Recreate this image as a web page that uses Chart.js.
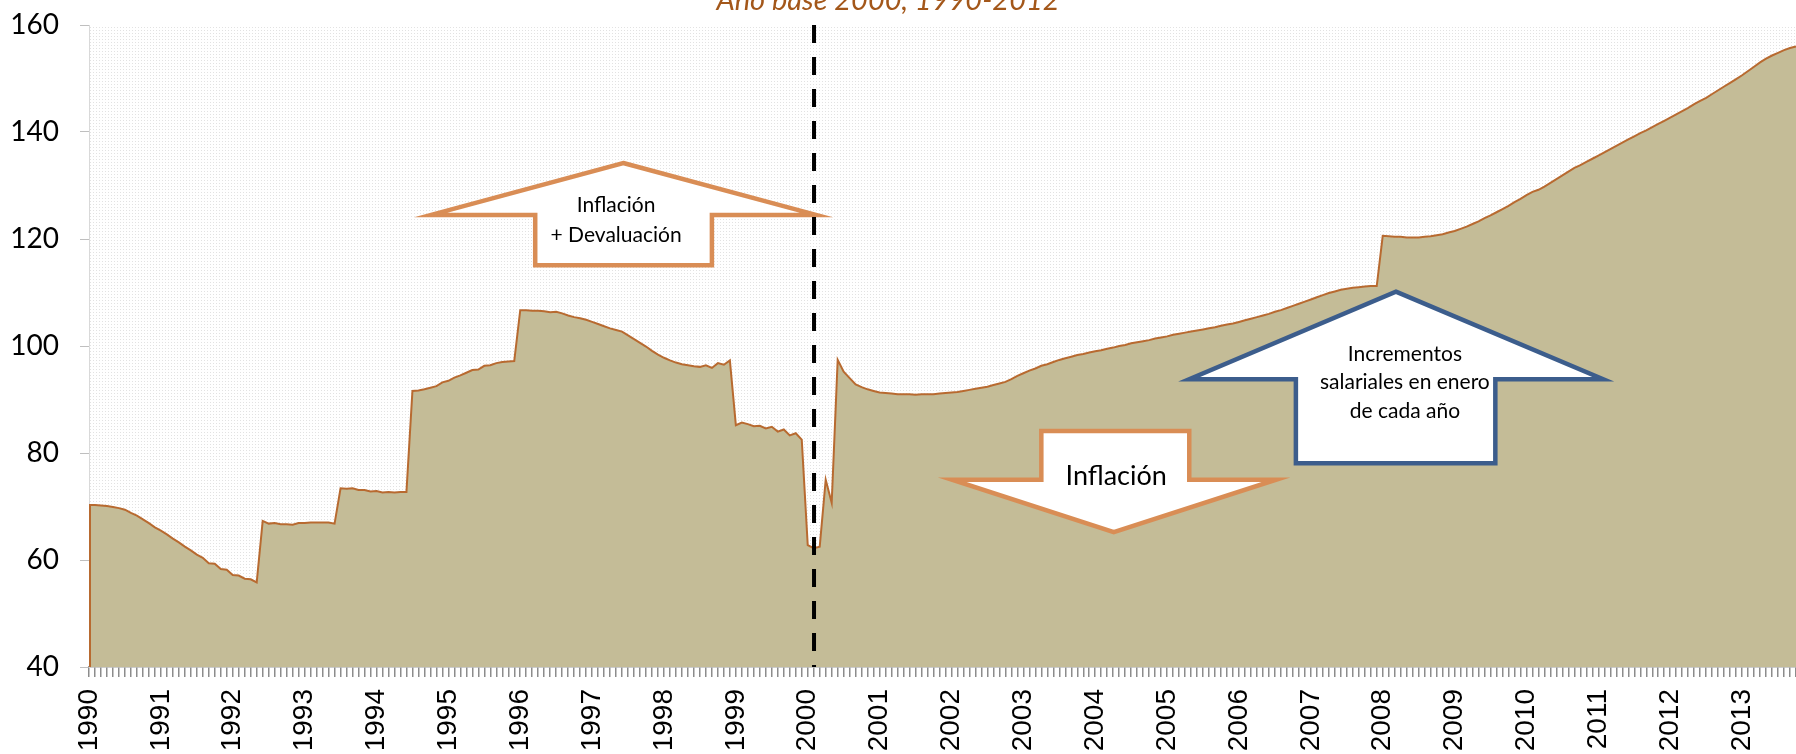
<!DOCTYPE html>
<html lang="es">
<head>
<meta charset="utf-8">
<title>Índice de salario real, año base 2000</title>
<script src="https://cdn.jsdelivr.net/npm/chart.js@4.4.1/dist/chart.umd.min.js"></script>
<style>
  html, body { margin: 0; padding: 0; background: #fff; overflow: hidden; }
  #wrap { width: 1796px; height: 754px; }
</style>
</head>
<body>
<div id="wrap"><canvas id="chart" width="1796" height="754"></canvas></div>
<script>
// category axis: one label per January
const years = ['1990', '1991', '1992', '1993', '1994', '1995', '1996', '1997', '1998', '1999', '2000', '2001',
               '2002', '2003', '2004', '2005', '2006', '2007', '2008', '2009', '2010', '2011', '2012', '2013'];
const monthsLastYear = 10; // the series stops in Oct 2013

// real wage index, monthly (2000 = 100)
const indice = [
  70.3, 70.3, 70.2, 70.1, 69.9, 69.7, 69.4, 68.8, 68.3, 67.6, 66.9, 66.1,              // 1990
  65.5, 64.8, 64.0, 63.3, 62.5, 61.8, 61.0, 60.4, 59.4, 59.3, 58.3, 58.2,              // 1991
  57.2, 57.1, 56.5, 56.4, 55.8, 67.3, 66.8, 66.9, 66.7, 66.7, 66.6, 66.9,              // 1992
  66.9, 67.0, 67.0, 67.0, 67.0, 66.8, 73.4, 73.3, 73.4, 73.1, 73.1, 72.8,              // 1993
  72.9, 72.6, 72.7, 72.6, 72.7, 72.7, 91.6, 91.7, 91.9, 92.2, 92.5, 93.2,              // 1994
  93.5, 94.1, 94.5, 95.0, 95.5, 95.6, 96.3, 96.4, 96.8, 97.0, 97.1, 97.2,              // 1995
  106.7, 106.7, 106.6, 106.6, 106.5, 106.3, 106.4, 106.1, 105.7, 105.4, 105.2, 104.9,  // 1996
  104.5, 104.1, 103.7, 103.3, 103.0, 102.7, 102.0, 101.3, 100.6, 99.9, 99.1, 98.4,     // 1997
  97.8, 97.3, 96.9, 96.6, 96.4, 96.2, 96.1, 96.4, 95.9, 96.8, 96.5, 97.3,              // 1998
  85.2, 85.7, 85.4, 85.0, 85.1, 84.6, 84.9, 84.0, 84.4, 83.3, 83.7, 82.5,              // 1999
  62.8, 62.2, 62.5, 75.0, 70.7, 97.4, 95.2, 94.0, 92.8, 92.3, 91.9, 91.6,              // 2000
  91.3, 91.2, 91.1, 91.0, 91.0, 91.0, 90.9, 91.0, 91.0, 91.0, 91.1, 91.2,              // 2001
  91.3, 91.4, 91.6, 91.8, 92.0, 92.2, 92.4, 92.7, 93.0, 93.3, 93.8, 94.4,              // 2002
  94.9, 95.4, 95.8, 96.3, 96.6, 97.0, 97.4, 97.7, 98.0, 98.3, 98.5, 98.8,              // 2003
  99.0, 99.2, 99.5, 99.7, 100.0, 100.2, 100.5, 100.7, 100.9, 101.1, 101.4, 101.6,      // 2004
  101.8, 102.1, 102.3, 102.5, 102.7, 102.9, 103.1, 103.3, 103.5, 103.8, 104.0, 104.2,  // 2005
  104.5, 104.8, 105.1, 105.4, 105.7, 106.0, 106.4, 106.7, 107.1, 107.5, 107.9, 108.3,  // 2006
  108.7, 109.1, 109.5, 109.9, 110.2, 110.5, 110.7, 110.9, 111.0, 111.1, 111.2, 111.2,  // 2007
  120.6, 120.5, 120.4, 120.4, 120.3, 120.3, 120.3, 120.4, 120.5, 120.7, 120.9, 121.2,  // 2008
  121.5, 121.9, 122.3, 122.8, 123.3, 123.9, 124.4, 125.0, 125.6, 126.2, 126.9, 127.5,  // 2009
  128.2, 128.8, 129.2, 129.8, 130.5, 131.2, 131.9, 132.6, 133.3, 133.8, 134.4, 135.0,  // 2010
  135.6, 136.2, 136.8, 137.4, 138.0, 138.6, 139.2, 139.8, 140.3, 140.9, 141.5, 142.1,  // 2011
  142.7, 143.3, 143.9, 144.5, 145.2, 145.8, 146.4, 147.1, 147.8, 148.5, 149.2, 149.9,  // 2012
  150.6, 151.4, 152.2, 153.0, 153.7, 154.3, 154.8, 155.3, 155.7, 156.0                 // 2013
];

const yMin = 40, yMax = 160, yStep = 20;

// month labels "1990-01" ... built from the year list
const meses = [];
years.forEach((y, k) => {
  const n = k === years.length - 1 ? monthsLastYear : 12;
  for (let m = 1; m <= n; m++) meses.push(y + '-' + String(m).padStart(2, '0'));
});

// annotation shapes, in (month index, index value) units
const lineaDevaluacion = 121.05;
const flechas = [
  { tip: [89.2, 134.2], barbL: 57.1, barbR: 121.4, barbV: 124.5, shaftL: 74.5, shaftR: 104.0, endV: 115.1,
    color: '#d98d55', text: ['Inflación', '+ Devaluación'], at: [88, 126.3], font: '21px Lato', lh: 30 },
  { tip: [171.1, 65.2], barbL: 144.1, barbR: 198.2, barbV: 75.0, shaftL: 159.0, shaftR: 183.7, endV: 84.1,
    color: '#d98d55', text: ['Inflación'], at: [171.5, 75.7], font: '27px Lato', lh: 30 },
  { tip: [218.2, 110.15], barbL: 183.7, barbR: 252.8, barbV: 93.8, shaftL: 201.5, shaftR: 234.8, endV: 78.1,
    color: '#3c5d8c', text: ['Incrementos', 'salariales en enero', 'de cada año'], at: [219.7, 98.5], font: '21px Lato', lh: 28.7 }
];

function patronPuntos(ctx) {
  const c = document.createElement('canvas');
  c.width = 3; c.height = 3;
  const g = c.getContext('2d');
  g.fillStyle = '#ffffff'; g.fillRect(0, 0, 3, 3);
  g.fillStyle = '#e2e2e2'; g.fillRect(0, 0, 1, 1);
  return ctx.createPattern(c, 'repeat');
}

function dibujarFlecha(ctx, X, Y, f) {
  const by = Y(f.barbV), ey = Y(f.endV);
  ctx.save();
  ctx.beginPath();
  ctx.moveTo(X(f.tip[0]), Y(f.tip[1]));
  ctx.lineTo(X(f.barbR), by);
  ctx.lineTo(X(f.shaftR), by);
  ctx.lineTo(X(f.shaftR), ey);
  ctx.lineTo(X(f.shaftL), ey);
  ctx.lineTo(X(f.shaftL), by);
  ctx.lineTo(X(f.barbL), by);
  ctx.closePath();
  ctx.fillStyle = '#ffffff';
  ctx.fill();
  ctx.lineWidth = 4.5;
  ctx.lineJoin = 'miter';
  ctx.strokeStyle = f.color;
  ctx.stroke();
  ctx.fillStyle = '#000';
  ctx.font = f.font;
  ctx.textAlign = 'center';
  ctx.textBaseline = 'middle';
  f.text.forEach((t, k) => ctx.fillText(t, X(f.at[0]), Y(f.at[1]) + k * f.lh));
  ctx.restore();
}

const anotaciones = {
  id: 'anotaciones',
  beforeDraw(chart) {
    const { ctx, chartArea: a } = chart;
    ctx.save();
    ctx.fillStyle = patronPuntos(ctx);
    ctx.fillRect(a.left, a.top, a.right - a.left, a.bottom - a.top);
    ctx.restore();
  },
  afterDatasetsDraw(chart) {
    const { ctx, chartArea: a, scales: { x, y } } = chart;
    const X = i => x.getPixelForValue(i);
    const Y = v => y.getPixelForValue(v);

    // left edge of the area
    ctx.save();
    ctx.strokeStyle = '#b86a30';
    ctx.lineWidth = 2;
    ctx.beginPath();
    ctx.moveTo(a.left + 1, a.bottom);
    ctx.lineTo(a.left + 1, Y(indice[0]));
    ctx.stroke();
    ctx.restore();

    flechas.forEach(f => dibujarFlecha(ctx, X, Y, f));

    // devaluation line
    ctx.save();
    ctx.strokeStyle = '#000';
    ctx.lineWidth = 4;
    ctx.setLineDash([18, 14]);
    ctx.beginPath();
    ctx.moveTo(X(lineaDevaluacion), a.top);
    ctx.lineTo(X(lineaDevaluacion), a.bottom);
    ctx.stroke();
    ctx.restore();

    // subtitle, mostly cut by the top edge
    ctx.save();
    ctx.fillStyle = '#a3571a';
    ctx.font = 'italic 29px Lato';
    ctx.textAlign = 'center';
    ctx.textBaseline = 'alphabetic';
    ctx.fillText('Año base 2000, 1990-2012', X(133.4), a.top - 15);
    ctx.restore();
  }
};

new Chart(document.getElementById('chart'), {
  type: 'line',
  data: {
    labels: meses,
    datasets: [{
      label: 'Índice de salario real',
      data: indice,
      borderColor: '#b86a30',
      borderWidth: 2,
      backgroundColor: '#c4bc97',
      fill: 'start',
      pointRadius: 0,
      tension: 0
    }]
  },
  options: {
    responsive: false,
    animation: false,
    devicePixelRatio: 1,
    layout: { padding: { top: 25, right: 0, bottom: 0, left: 0 } },
    plugins: { legend: { display: false }, tooltip: { enabled: false }, title: { display: false } },
    scales: {
      x: {
        offset: false,
        grid: { drawOnChartArea: false, tickLength: 10, color: '#8c8c8c', lineWidth: 1.5 },
        border: { color: '#9a9a9a', width: 1.5 },
        ticks: {
          autoSkip: false,
          minRotation: 90,
          maxRotation: 90,
          padding: 12,
          color: '#000',
          font: { family: 'Liberation Sans', size: 28 },
          callback(value) {
            const l = this.getLabelForValue(value);
            return l.endsWith('-01') ? l.slice(0, 4) : '';
          }
        },
        afterFit(axis) {
          axis.height = 87;
          axis.paddingLeft = 0;
          axis.paddingRight = 0;
        }
      },
      y: {
        min: yMin,
        max: yMax,
        grid: { drawOnChartArea: false, tickLength: 9, color: '#bfbfbf' },
        border: { color: '#d9d9d9', width: 1 },
        ticks: { stepSize: yStep, padding: 21, color: '#000', font: { family: 'Lato', size: 28 } },
        afterFit(axis) {
          axis.width = 89;
          axis.paddingTop = 0;
          axis.paddingBottom = 0;
        }
      }
    }
  },
  plugins: [anotaciones]
});
</script>
</body>
</html>
